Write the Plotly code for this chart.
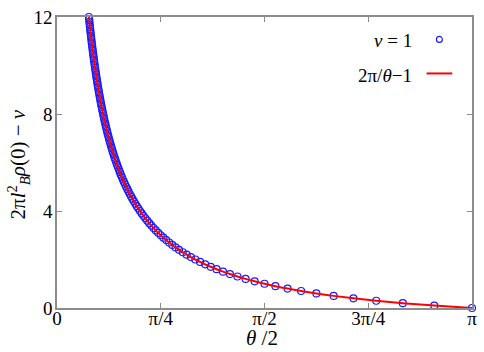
import plotly.graph_objects as go

# theta/2 in units of pi, and the plotted quantity 2*pi*l_B^2*rho(0) - nu
x_over_pi = [
    1.0000, 0.9091, 0.8333, 0.7692, 0.7143, 0.6667, 0.6250, 0.5882, 0.5556, 0.5263,
    0.5000, 0.4762, 0.4545, 0.4348, 0.4167, 0.4000, 0.3846, 0.3704, 0.3571, 0.3448,
    0.3333, 0.3226, 0.3125, 0.3030, 0.2941, 0.2857, 0.2778, 0.2703, 0.2632, 0.2564,
    0.2500, 0.2439, 0.2381, 0.2326, 0.2273, 0.2222, 0.2174, 0.2128, 0.2083, 0.2041,
    0.2000, 0.1961, 0.1923, 0.1887, 0.1852, 0.1818, 0.1786, 0.1754, 0.1724, 0.1695,
    0.1667, 0.1639, 0.1613, 0.1587, 0.1563, 0.1538, 0.1515, 0.1493, 0.1471, 0.1449,
    0.1429, 0.1408, 0.1389, 0.1370, 0.1351, 0.1333, 0.1316, 0.1299, 0.1282, 0.1266,
    0.1250, 0.1235, 0.1220, 0.1205, 0.1190, 0.1176, 0.1163, 0.1149, 0.1136, 0.1124,
    0.1111, 0.1099, 0.1087, 0.1075, 0.1064, 0.1053, 0.1042, 0.1031, 0.1020, 0.1010,
    0.1000, 0.0990, 0.0980, 0.0971, 0.0962, 0.0952, 0.0943, 0.0935, 0.0926, 0.0917,
    0.0909, 0.0901, 0.0893, 0.0885, 0.0877, 0.0870, 0.0862, 0.0855, 0.0847, 0.0840,
    0.0833, 0.0826, 0.0820, 0.0813, 0.0806, 0.0800, 0.0794, 0.0787, 0.0781, 0.0775,
    0.0769,
]
density = [
    0.0, 0.1, 0.2, 0.3, 0.4, 0.5, 0.6, 0.7, 0.8, 0.9,
    1.0, 1.1, 1.2, 1.3, 1.4, 1.5, 1.6, 1.7, 1.8, 1.9,
    2.0, 2.1, 2.2, 2.3, 2.4, 2.5, 2.6, 2.7, 2.8, 2.9,
    3.0, 3.1, 3.2, 3.3, 3.4, 3.5, 3.6, 3.7, 3.8, 3.9,
    4.0, 4.1, 4.2, 4.3, 4.4, 4.5, 4.6, 4.7, 4.8, 4.9,
    5.0, 5.1, 5.2, 5.3, 5.4, 5.5, 5.6, 5.7, 5.8, 5.9,
    6.0, 6.1, 6.2, 6.3, 6.4, 6.5, 6.6, 6.7, 6.8, 6.9,
    7.0, 7.1, 7.2, 7.3, 7.4, 7.5, 7.6, 7.7, 7.8, 7.9,
    8.0, 8.1, 8.2, 8.3, 8.4, 8.5, 8.6, 8.7, 8.8, 8.9,
    9.0, 9.1, 9.2, 9.3, 9.4, 9.5, 9.6, 9.7, 9.8, 9.9,
    10.0, 10.1, 10.2, 10.3, 10.4, 10.5, 10.6, 10.7, 10.8, 10.9,
    11.0, 11.1, 11.2, 11.3, 11.4, 11.5, 11.6, 11.7, 11.8, 11.9,
    12.0,
]
x_tickvals = [0, 0.25, 0.5, 0.75, 1]
x_ticktext = ["0", "π/4", "π/2", "3π/4", "π"]
y_tickvals = [0, 4, 8, 12]

FONT = "Liberation Serif"
AXIS_GRAY = "#8c8c8c"
W, H = 484, 352
L, R, T, B = 57, 7, 9, 44
pw, ph = W - L - R, H - T - B


def px_x(x):
    return (x - L) / pw


def px_y(y):
    return 1 - (y - T) / ph


fig = go.Figure()
fig.add_trace(go.Scatter(
    x=x_over_pi, y=density, mode="markers", name="ν = 1", cliponaxis=False,
    marker=dict(symbol="circle-open", size=7, color="#1a1aff", line=dict(width=1.2)),
))
fig.add_trace(go.Scatter(
    x=x_over_pi, y=density, mode="lines", name="2π/θ−1", cliponaxis=False,
    line=dict(color="#ff0000", width=2, shape="spline"),
))

axis_common = dict(
    showgrid=False, zeroline=False, showline=True, linecolor=AXIS_GRAY, linewidth=1.5,
    mirror="ticks", ticks="inside", ticklen=5, tickcolor=AXIS_GRAY,
    tickfont=dict(family=FONT, size=19, color="black"),
    ticklabeloverflow="allow",
)
fig.update_xaxes(range=[0, 1], tickvals=x_tickvals, ticktext=x_ticktext,
                 ticklabelstandoff=-8, **axis_common)
fig.update_yaxes(range=[0, 12], tickvals=y_tickvals, ticklabelstandoff=-1, **axis_common)

title_font = dict(family=FONT, size=21, color="black")
fig.add_annotation(x=px_x(264), y=px_y(339), xref="paper", yref="paper",
                   text="<i>θ</i> /2", showarrow=False, font=title_font,
                   xanchor="center", yanchor="middle")
fig.add_annotation(x=px_x(18), y=px_y(160), xref="paper", yref="paper",
                   text="2π<i>l</i><sup>2</sup><sub><i>B</i></sub><i>ρ</i>(0) − <i>ν</i>",
                   textangle=-90, showarrow=False, font=title_font,
                   xanchor="center", yanchor="middle")

# legend drawn as text with the key on the right, as in the original
legend_font = dict(family=FONT, size=19, color="black")
fig.add_annotation(x=px_x(418), y=px_y(33), xref="paper", yref="paper", text="<i>ν</i> = 1",
                   showarrow=False, xanchor="right", yanchor="middle", font=legend_font)
fig.add_annotation(x=px_x(418), y=px_y(69), xref="paper", yref="paper", text="2π/<i>θ</i>−1",
                   showarrow=False, xanchor="right", yanchor="middle", font=legend_font)
fig.add_shape(type="circle", xref="paper", yref="paper",
              x0=px_x(441), x1=px_x(447), y0=px_y(35), y1=px_y(29),
              line=dict(color="#1a1aff", width=1.2))
fig.add_shape(type="line", xref="paper", yref="paper",
              x0=px_x(431), x1=px_x(457), y0=px_y(67), y1=px_y(67),
              line=dict(color="#ff0000", width=2))

fig.update_layout(
    width=W, height=H, showlegend=False,
    margin=dict(l=L, r=R, t=T, b=B),
    plot_bgcolor="white", paper_bgcolor="white",
)

fig.write_html("out.html", config={"displayModeBar": False},
               post_script="document.body.style.margin = '0';")
